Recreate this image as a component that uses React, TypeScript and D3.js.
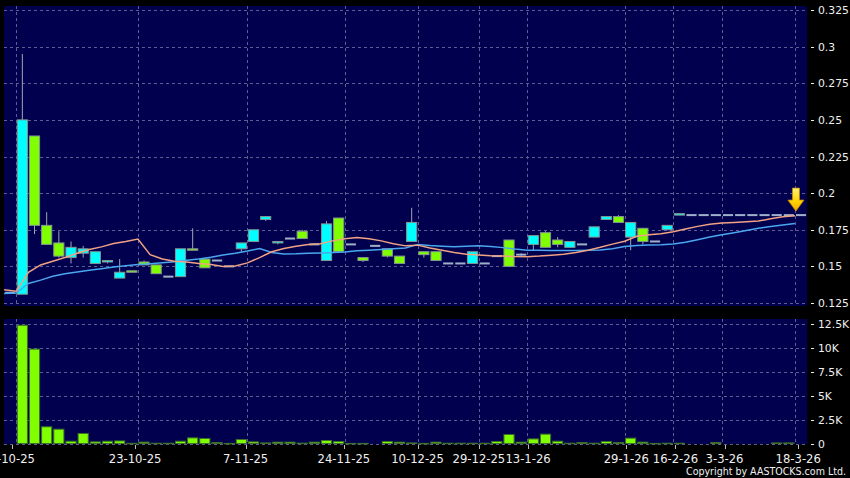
import React from "react";
import * as d3 from "d3";

const W = 850;
const H = 478;

// OHLC per trading slot (0..65)
const opens = [
  0.132, 0.131, 0.239, 0.178, 0.166, 0.156, 0.159, 0.152, 0.153, 0.142,
  0.147, 0.153, 0.151, 0.143, 0.143, 0.162, 0.155, 0.154, 0.150, 0.162,
  0.167, 0.182, 0.166, 0.169, 0.174, 0.165, 0.154, 0.183, 0.165, 0.156,
  0.164, 0.162, 0.157, 0.167, 0.160, 0.160, 0.152, 0.152, 0.152, 0.152,
  0.157, 0.168, 0.158, 0.165, 0.173, 0.168, 0.163, 0.165, 0.170, 0.182,
  0.184, 0.170, 0.176, 0.167, 0.175, 0.185, 0.185, 0.185, 0.185, 0.185,
  0.185, 0.185, 0.185, 0.185, 0.185, 0.185,
];
const highs = [
  0.132, 0.295, 0.239, 0.187, 0.174, 0.167, 0.164, 0.160, 0.154, 0.155,
  0.147, 0.154, 0.151, 0.143, 0.162, 0.176, 0.155, 0.154, 0.150, 0.166,
  0.175, 0.184, 0.167, 0.169, 0.175, 0.165, 0.181, 0.183, 0.165, 0.156,
  0.164, 0.162, 0.157, 0.190, 0.160, 0.160, 0.152, 0.152, 0.160, 0.152,
  0.157, 0.168, 0.159, 0.171, 0.174, 0.170, 0.167, 0.165, 0.177, 0.184,
  0.185, 0.180, 0.176, 0.167, 0.178, 0.186, 0.185, 0.185, 0.185, 0.185,
  0.185, 0.185, 0.185, 0.185, 0.185, 0.185,
];
const lows = [
  0.132, 0.131, 0.172, 0.165, 0.156, 0.152, 0.156, 0.152, 0.152, 0.142,
  0.146, 0.151, 0.145, 0.143, 0.143, 0.161, 0.149, 0.154, 0.150, 0.160,
  0.167, 0.181, 0.165, 0.169, 0.169, 0.165, 0.154, 0.160, 0.165, 0.153,
  0.164, 0.156, 0.152, 0.167, 0.156, 0.154, 0.152, 0.152, 0.152, 0.152,
  0.157, 0.150, 0.157, 0.161, 0.163, 0.163, 0.163, 0.165, 0.170, 0.182,
  0.180, 0.161, 0.165, 0.167, 0.175, 0.185, 0.185, 0.185, 0.185, 0.185,
  0.185, 0.185, 0.185, 0.185, 0.185, 0.185,
];
const closes = [
  0.132, 0.250, 0.178, 0.165, 0.157, 0.163, 0.162, 0.160, 0.154, 0.146,
  0.146, 0.151, 0.145, 0.143, 0.162, 0.161, 0.149, 0.154, 0.150, 0.166,
  0.175, 0.184, 0.167, 0.169, 0.169, 0.165, 0.179, 0.160, 0.165, 0.154,
  0.164, 0.157, 0.152, 0.180, 0.158, 0.154, 0.152, 0.152, 0.160, 0.152,
  0.157, 0.150, 0.158, 0.171, 0.163, 0.165, 0.167, 0.165, 0.177, 0.184,
  0.180, 0.180, 0.167, 0.167, 0.178, 0.186, 0.185, 0.185, 0.185, 0.185,
  0.185, 0.185, 0.185, 0.185, 0.185, 0.185,
];
const volumes = [
  0, 12400, 9900, 1750, 1500, 240, 1050, 170, 240, 270,
  20, 140, 30, 30, 240, 590, 525, 100, 10, 420,
  170, 60, 140, 140, 40, 140, 315, 210, 10, 10,
  0, 210, 140, 60, 10, 140, 30, 30, 30, 30,
  210, 945, 140, 480, 980, 240, 30, 100, 30, 210,
  100, 560, 140, 10, 30, 30, 0, 0, 100, 0,
  0, 0, 0, 60, 60, 0,
];
// moving averages, one per slot boundary
const maShort = [
  0.134, 0.133, 0.146, 0.151, 0.1535, 0.156, 0.159, 0.1615, 0.1633, 0.1656,
  0.167, 0.1686, 0.158, 0.155, 0.1535, 0.153, 0.152, 0.1513, 0.150, 0.1503,
  0.1524, 0.156, 0.160, 0.1622, 0.1638, 0.165, 0.1654, 0.1674, 0.1688, 0.1697,
  0.1688, 0.1674, 0.1654, 0.164, 0.1645, 0.1625, 0.161, 0.1595, 0.1582, 0.1578,
  0.1573, 0.157, 0.1567, 0.1566, 0.157, 0.1576, 0.1582, 0.1595, 0.161, 0.163,
  0.1652, 0.1672, 0.1705, 0.1716, 0.1723, 0.1737, 0.1755, 0.1773, 0.1787, 0.1796,
  0.18, 0.1804, 0.1809, 0.1825, 0.1838, 0.1846,
];
const maLong = [
  0.1315, 0.1318, 0.1383, 0.1406, 0.1433, 0.145, 0.1462, 0.1473, 0.1484, 0.1496,
  0.1505, 0.1513, 0.1518, 0.1524, 0.1531, 0.1541, 0.1551, 0.1563, 0.1578, 0.159,
  0.1605, 0.1622, 0.1595, 0.1585, 0.1586, 0.159, 0.1592, 0.1594, 0.1598, 0.1606,
  0.161, 0.1615, 0.162, 0.1626, 0.165, 0.1642, 0.1638, 0.1634, 0.1637, 0.164,
  0.1635, 0.1628, 0.1618, 0.161, 0.161, 0.1609, 0.1608, 0.1608, 0.161, 0.1612,
  0.162, 0.1635, 0.1642, 0.1646, 0.1648, 0.1652, 0.1665, 0.1682, 0.17, 0.1716,
  0.173, 0.1745, 0.176, 0.1772, 0.1782, 0.1793,
];

const xTickSlots = [1, 11, 20, 28, 34, 39, 43, 51, 55, 59, 65];
const xTickLabels = [
  "9-10-25", "23-10-25", "7-11-25", "24-11-25", "10-12-25", "29-12-25",
  "13-1-26", "29-1-26", "16-2-26", "3-3-26", "18-3-26",
];
const priceTicks = [0.125, 0.15, 0.175, 0.2, 0.225, 0.25, 0.275, 0.3, 0.325];
const priceTickLabels = ["0.125", "0.15", "0.175", "0.2", "0.225", "0.25", "0.275", "0.3", "0.325"];
const volTicks = [0, 2500, 5000, 7500, 10000, 12500];
const volTickLabels = ["0", "2.5K", "5K", "7.5K", "10K", "12.5K"];

const NSLOTS = 66;
const BG = "#00004e";
const GRID = "#5d5d92";
const TXT = "#f0f0f0";
const FONT = "'DejaVu Sans', Verdana, sans-serif";

export default function App() {
  const x = d3.scaleLinear().domain([0, NSLOTS]).range([4.1, 807.1]);
  const xAxis = d3.scaleLinear().domain([0, NSLOTS]).range([0, 810.5]);
  const y = d3.scaleLinear().domain([0.125, 0.325]).range([303, 10]);
  const yv = d3.scaleLinear().domain([0, 12500]).range([443.5, 324.3]);
  const step = x(1) - x(0);

  const line = (vals: number[]) =>
    d3
      .line<number>()
      .x((_, i) => x(i))
      .y((d) => y(d))(vals) as string;

  const lastY = y(closes[closes.length - 1]);
  const ax = x(NSLOTS - 1) + 1;
  const tipY = lastY - 4;

  return (
    <svg
      width={W}
      height={H}
      style={{ position: "absolute", left: 0, top: 0, background: "#000" }}
      fontFamily={FONT}
    >
      <defs>
        <linearGradient id="arrowGrad" x1="0" x2="0" y1="0" y2="1">
          <stop offset="0" stopColor="#fff27a" />
          <stop offset="0.6" stopColor="#ffd200" />
          <stop offset="1" stopColor="#f0a800" />
        </linearGradient>
      </defs>
      <rect x={0} y={0} width={W} height={H} fill="#000" />
      {/* panels */}
      <rect x={4} y={6} width={803} height={300} fill={BG} />
      <rect x={4} y={319} width={803} height={125} fill={BG} />

      {/* horizontal grid - price */}
      {priceTicks.map((t, i) => (
        <g key={"pg" + i}>
          <line
            x1={4}
            x2={807}
            y1={Math.round(y(t)) + 0.5}
            y2={Math.round(y(t)) + 0.5}
            stroke={GRID}
            strokeDasharray="3,3"
          />
          <line x1={811} x2={814} y1={Math.round(y(t)) + 0.5} y2={Math.round(y(t)) + 0.5} stroke={TXT} />
          <text x={818} y={y(t) + 4} fontSize={10.8} fill={TXT}>
            {priceTickLabels[i]}
          </text>
        </g>
      ))}
      {/* horizontal grid - volume */}
      {volTicks.map((t, i) => (
        <g key={"vg" + i}>
          <line
            x1={4}
            x2={807}
            y1={Math.round(yv(t)) + 0.5}
            y2={Math.round(yv(t)) + 0.5}
            stroke={GRID}
            strokeDasharray="3,3"
          />
          <line x1={811} x2={814} y1={Math.round(yv(t)) + 0.5} y2={Math.round(yv(t)) + 0.5} stroke={TXT} />
          <text x={818} y={yv(t) + 4} fontSize={10.8} fill={TXT}>
            {volTickLabels[i]}
          </text>
        </g>
      ))}
      {/* vertical grid */}
      {xTickSlots.map((k, i) => (
        <g key={"xg" + i}>
          <line
            x1={Math.round(x(k)) + 0.5}
            x2={Math.round(x(k)) + 0.5}
            y1={6}
            y2={306}
            stroke={GRID}
            strokeDasharray="3,3"
          />
          <line
            x1={Math.round(x(k)) + 0.5}
            x2={Math.round(x(k)) + 0.5}
            y1={319}
            y2={444}
            stroke={GRID}
            strokeDasharray="3,3"
          />
          <line
            x1={Math.round(xAxis(k)) + 0.5}
            x2={Math.round(xAxis(k)) + 0.5}
            y1={445}
            y2={449}
            stroke="#bbbbbb"
          />
          <text x={xAxis(k)} y={462.5} fontSize={11.6} fill={TXT} textAnchor="middle">
            {xTickLabels[i]}
          </text>
        </g>
      ))}

      {/* volume bars */}
      {volumes.map((v, i) =>
        v > 0 ? (
          <rect
            key={"v" + i}
            x={x(i) + 1}
            y={yv(v)}
            width={step - 2}
            height={Math.max(0.5, yv(0) - yv(v))}
            fill="#80ff00"
            stroke="#3d6e2a"
            strokeWidth={1}
          />
        ) : null
      )}

      {/* candles */}
      {opens.map((o, i) => {
        const c = closes[i];
        const cx = x(i) + 1 + (step - 2) / 2;
        const flat = o === c;
        const top = y(Math.max(o, c));
        const bot = y(Math.min(o, c));
        return (
          <g key={"c" + i}>
            {highs[i] !== lows[i] && (
              <line x1={cx} x2={cx} y1={y(highs[i])} y2={y(lows[i])} stroke="#a4a4b0" strokeWidth={1} />
            )}
            {flat ? (
              <rect x={x(i) + 1} y={top - 1} width={step - 2} height={2} fill="#9fb0c8" />
            ) : (
              <rect
                x={x(i) + 1}
                y={top}
                width={step - 2}
                height={Math.max(1, bot - top)}
                fill={c > o ? "#00ffff" : "#80ff00"}
                stroke="#849494"
                strokeWidth={1}
              />
            )}
          </g>
        );
      })}

      {/* moving averages */}
      <path d={line(maLong)} fill="none" stroke="#4aa6ee" strokeWidth={1.5} />
      <path d={line(maShort)} fill="none" stroke="#f0a283" strokeWidth={1.5} />

      {/* last price arrow */}
      <path
        d={`M${ax - 3.5},${tipY - 23} L${ax + 3.5},${tipY - 23} L${ax + 3.5},${tipY - 11} L${ax + 8},${tipY - 11} L${ax},${tipY} L${ax - 8},${tipY - 11} L${ax - 3.5},${tipY - 11} Z`}
        fill="url(#arrowGrad)"
        stroke="#c98a00"
        strokeWidth={0.8}
      />

      <text
        x={846}
        y={475}
        fontSize={11}
        fill={TXT}
        textAnchor="end"
        textLength={160}
        lengthAdjust="spacingAndGlyphs"
      >
        Copyright by AASTOCKS.com Ltd.
      </text>
    </svg>
  );
}
